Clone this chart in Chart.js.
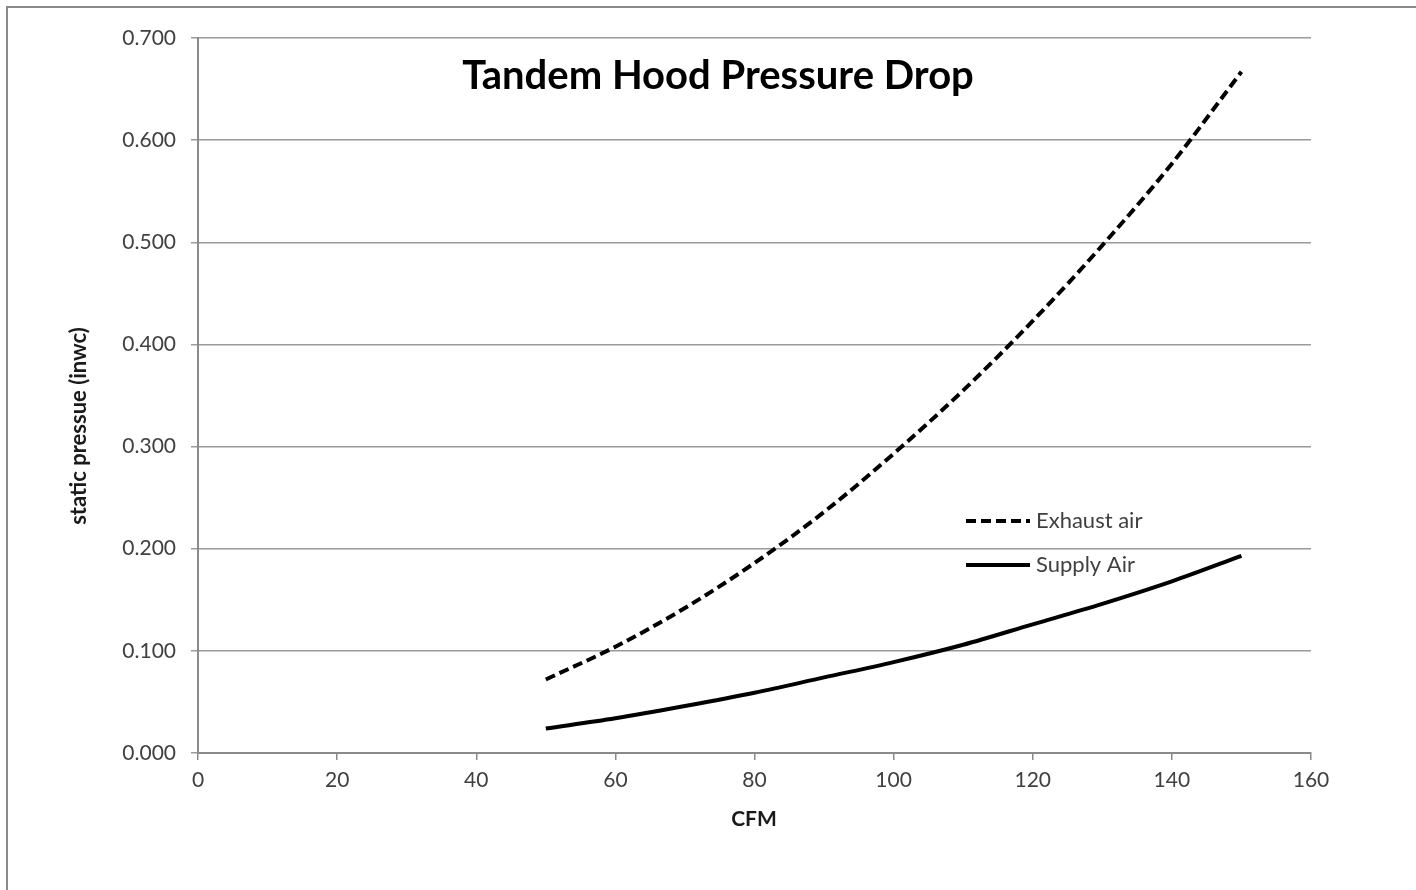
<!DOCTYPE html>
<html>
<head>
<meta charset="utf-8">
<script src="https://cdn.jsdelivr.net/npm/chart.js@4"></script>
<style>
  html, body { margin: 0; padding: 0; background: #fff; }
  #wrap { position: relative; width: 1416px; height: 890px; overflow: hidden; }
  #frame { position: absolute; left: 6px; top: 6px; width: 1430px; height: 900px; border-left: 2px solid #8a8a8a; border-top: 2px solid #8a8a8a; box-sizing: border-box; }
  canvas { position: absolute; left: 0; top: 0; }
</style>
</head>
<body>
<div id="wrap">
  <div id="frame"></div>
  <canvas id="c" width="1416" height="890"></canvas>
</div>
<script>
const chartTitle = "Tandem Hood Pressure Drop";
const xAxisTitle = "CFM";
const yAxisTitle = "static pressue (inwc)";
const cfm = [50, 60, 70, 80, 90, 100, 110, 120, 130, 140, 150];
const exhaustAir = [0.072, 0.104, 0.142, 0.186, 0.236, 0.293, 0.355, 0.423, 0.497, 0.577, 0.667];
const supplyAir = [0.024, 0.034, 0.046, 0.059, 0.074, 0.089, 0.106, 0.126, 0.146, 0.168, 0.193];
const seriesNames = ["Exhaust air", "Supply Air"];
const xTicks = [0, 20, 40, 60, 80, 100, 120, 140, 160];
const yTicks = [0, 0.1, 0.2, 0.3, 0.4, 0.5, 0.6, 0.7];

const FONT = "Lato, 'Open Sans', sans-serif";
const toPts = ys => cfm.map((x, i) => ({ x: x, y: ys[i] }));

const overlay = {
  id: 'overlay',
  afterDraw(chart) {
    const ctx = chart.ctx;
    ctx.save();
    // title
    ctx.fillStyle = '#000';
    ctx.font = "bold 40px " + FONT;
    ctx.textAlign = 'center';
    ctx.textBaseline = 'middle';
    ctx.fillText(chartTitle, 718, 76);
    // x axis title
    ctx.font = "bold 21px " + FONT;
    ctx.fillStyle = '#1a1a1a';
    ctx.fillText(xAxisTitle, 754, 819);
    // y axis title
    ctx.save();
    ctx.translate(79, 426);
    ctx.rotate(-Math.PI / 2);
    ctx.font = "bold 22px " + FONT;
    ctx.fillStyle = '#1a1a1a';
    ctx.fillText(yAxisTitle, 0, 0);
    ctx.restore();
    // legend
    const ly = [521, 565];
    chart.data.datasets.forEach((ds, i) => {
      ctx.beginPath();
      ctx.lineWidth = ds.borderWidth;
      ctx.strokeStyle = ds.borderColor;
      ctx.setLineDash(ds.borderDash || []);
      ctx.moveTo(966, ly[i]);
      ctx.lineTo(1030, ly[i]);
      ctx.stroke();
      ctx.setLineDash([]);
      ctx.fillStyle = '#404040';
      ctx.font = "22px " + FONT;
      ctx.textAlign = 'left';
      ctx.textBaseline = 'middle';
      ctx.fillText(ds.label, 1036, ly[i]);
    });
    ctx.restore();
  }
};

new Chart(document.getElementById('c'), {
  type: 'line',
  data: {
    datasets: [
      { label: seriesNames[0], data: toPts(exhaustAir), borderColor: '#000', borderWidth: 4,
        borderDash: [10, 5], borderCapStyle: 'butt', pointRadius: 0, fill: false,
        cubicInterpolationMode: 'monotone' },
      { label: seriesNames[1], data: toPts(supplyAir), borderColor: '#000', borderWidth: 4,
        pointRadius: 0, fill: false, cubicInterpolationMode: 'monotone' }
    ]
  },
  options: {
    responsive: false,
    animation: false,
    devicePixelRatio: 1,
    layout: { padding: { left: 0, top: 38, right: 105, bottom: 0 } },
    plugins: { legend: { display: false }, title: { display: false }, tooltip: { enabled: false } },
    scales: {
      x: {
        type: 'linear', min: 0, max: 160,
        afterBuildTicks: s => { s.ticks = xTicks.map(v => ({ value: v })); },
        afterFit: s => { s.height = 137; },
        grid: { drawOnChartArea: false, drawTicks: true, tickLength: 7, color: '#8a8a8a', lineWidth: 1.5 },
        border: { display: true, color: '#8a8a8a', width: 2 },
        ticks: { color: '#404040', font: { family: FONT, size: 21 }, padding: 8, maxRotation: 0 },
        title: { display: false }
      },
      y: {
        type: 'linear', min: 0, max: 0.7,
        afterBuildTicks: s => { s.ticks = yTicks.map(v => ({ value: v })); },
        afterFit: s => { s.width = 198; },
        grid: { drawOnChartArea: true, drawTicks: true, tickLength: 7, color: '#9a9a9a', lineWidth: 1.5 },
        border: { display: true, color: '#8a8a8a', width: 2 },
        ticks: { color: '#404040', font: { family: FONT, size: 21 }, padding: 15, callback: v => Number(v).toFixed(3) }
      }
    }
  },
  plugins: [overlay]
});
</script>
</body>
</html>
